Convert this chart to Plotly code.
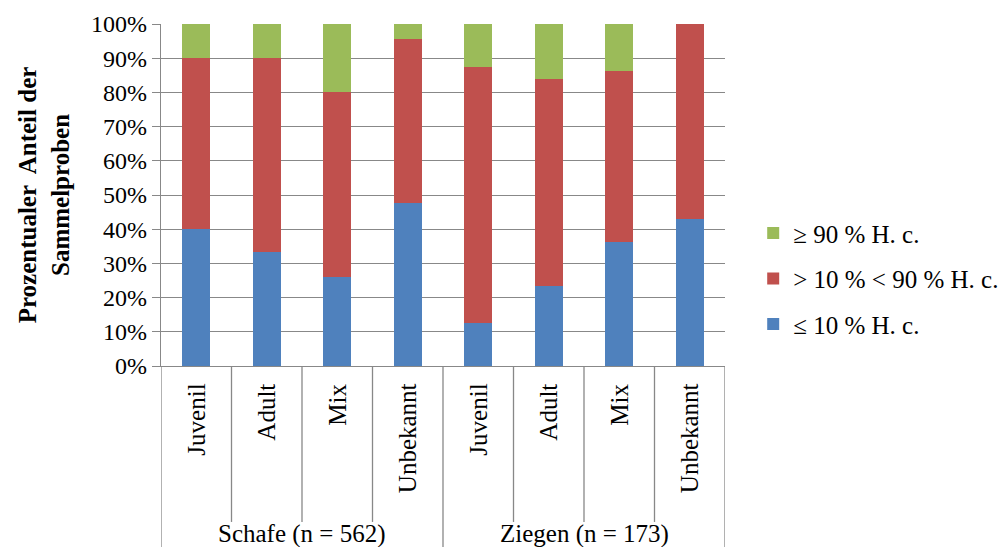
import plotly.graph_objects as go

# Stichproben-Kategorien je Tierart
groups = ["Schafe (n = 562)", "Ziegen (n = 173)"]
age_classes = ["Juvenil", "Adult", "Mix", "Unbekannt",
               "Juvenil", "Adult", "Mix", "Unbekannt"]

# Prozentuale Anteile je Klasse (Summe je Balken = 100 %)
low_share = [40.0, 33.3, 25.9, 47.8, 12.5, 23.5, 36.4, 42.9]    # ≤ 10 % H. c.
mid_share = [50.0, 56.7, 54.1, 47.8, 75.0, 60.3, 50.0, 57.1]    # > 10 % < 90 % H. c.
high_share = [10.0, 10.0, 20.0, 4.4, 12.5, 16.2, 13.6, 0.0]     # ≥ 90 % H. c.

y_ticks = [0, 10, 20, 30, 40, 50, 60, 70, 80, 90, 100]
y_tick_text = [f"{v}%" for v in y_ticks]

FONT = "Liberation Serif"
GRID = "#888888"
x_pos = list(range(len(age_classes)))

fig = go.Figure()
# (Name, Werte, Farbe, Rang in der Legende)
series = [
    ("≤ 10 % H. c.", low_share, "#4F81BD", 3),
    ("> 10 % < 90 % H. c.", mid_share, "#C0504D", 2),
    ("≥ 90 % H. c.", high_share, "#9BBB59", 1),
]
for k, (name, vals, color, rank) in enumerate(series):
    fig.add_trace(go.Bar(
        x=x_pos, y=vals, name=name, width=0.4, legendgroup=f"g{k}",
        legendrank=rank,
        marker=dict(color=color, line=dict(width=0)),
        hovertemplate="%{y:.1f}%<extra>" + name + "</extra>",
    ))

# Kategorienbeschriftungen (gedreht) und Gruppenbeschriftungen
annotations = []
for i, lab in enumerate(age_classes):
    annotations.append(dict(
        x=i, y=-0.045, xref="x", yref="paper", text=lab, textangle=-90,
        showarrow=False, xanchor="center", yanchor="top",
        font=dict(family=FONT, size=25, color="black"),
    ))
for g, lab in enumerate(groups):
    annotations.append(dict(
        x=g * 4 + 1.5, y=-0.49, xref="x", yref="paper", text=lab,
        showarrow=False, xanchor="center", yanchor="middle",
        font=dict(family=FONT, size=25, color="black"),
    ))

# Trennlinien unter der x-Achse
shapes = []
for i in range(1, len(age_classes)):
    if i % 4 == 0:
        continue
    shapes.append(dict(type="line", xref="x", yref="paper",
                       x0=i - 0.5, x1=i - 0.5, y0=0, y1=-0.456,
                       line=dict(color=GRID, width=1.3)))
for b in [-0.5, 3.5, 7.5]:
    shapes.append(dict(type="line", xref="x", yref="paper",
                       x0=b, x1=b, y0=0, y1=-0.53,
                       line=dict(color=GRID, width=1.3)))

fig.update_layout(
    barmode="stack",
    width=1008, height=547,
    margin=dict(l=161, r=283, t=24, b=181, autoexpand=False),
    paper_bgcolor="white", plot_bgcolor="white",
    font=dict(family=FONT, size=24, color="black"),
    showlegend=True,
    legend=dict(
        traceorder="grouped", x=1.05, y=0.255, xanchor="left",
        yanchor="middle",
        font=dict(family=FONT, size=25, color="black"),
        itemsizing="constant", tracegroupgap=10,
        bgcolor="rgba(0,0,0,0)",
    ),
    annotations=annotations,
    shapes=shapes,
)
fig.update_xaxes(
    range=[-0.5, 7.5], showticklabels=False, showgrid=False, zeroline=False,
    showline=True, linecolor=GRID, linewidth=1.3, ticks="",
)
fig.update_yaxes(
    range=[0, 100], tickmode="array", tickvals=y_ticks, ticktext=y_tick_text,
    showgrid=True, gridcolor=GRID, gridwidth=1.3, zeroline=False,
    showline=True, linecolor=GRID, linewidth=1.3,
    ticks="outside", ticklen=8, tickcolor=GRID, tickwidth=1.3,
    tickfont=dict(family=FONT, size=24, color="black"),
    title=dict(text="<b>Prozentualer  Anteil der<br>Sammelproben</b>",
               font=dict(family=FONT, size=25, color="black"), standoff=14),
)

fig.write_html("out.html")
